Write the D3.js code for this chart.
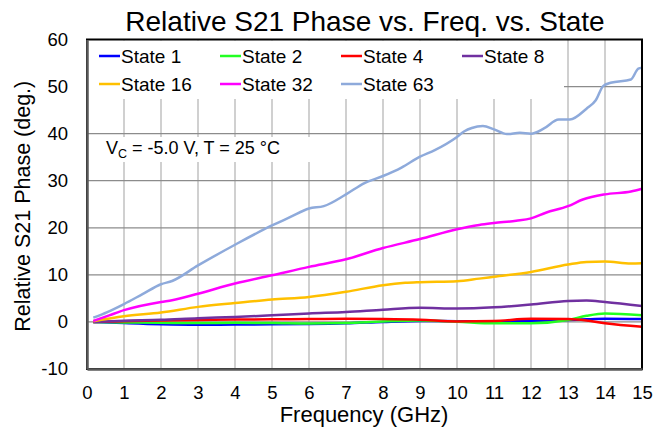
<!DOCTYPE html>
<html>
<head>
<meta charset="utf-8">
<script src="https://cdn.jsdelivr.net/npm/d3@7"></script>
<style>
  body { margin: 0; background: #fff; }
  svg { font-family: "Liberation Sans", Arial, sans-serif; }
  .grid-v line { stroke: #c0c0c0; stroke-width: 1.5; }
  .grid-h line { stroke: #8c8c8c; stroke-width: 1.3; }
  .series { fill: none; stroke-width: 2.5; stroke-linejoin: round; }
</style>
</head>
<body>
<svg id="canvas" width="654" height="431"></svg>
<script>
// chart data
const seriesNames = ["State 1", "State 2", "State 4", "State 8", "State 16", "State 32", "State 63"];
const seriesColors = ["#0000ff", "#22ff22", "#ff0000", "#7030a0", "#ffc000", "#ff00ff", "#8eaadb"];

const freqSmall = [0.17, 1, 2, 3, 4, 5, 6, 7, 8, 9, 10, 11, 12, 13, 13.5, 14, 15];
const state1 = [0, -0.25, -0.5, -0.6, -0.55, -0.5, -0.45, -0.3, 0, 0.2, 0.15, 0.1, 0.2, 0.4, 0.55, 0.65, 0.6];
const state2 = [0, -0.1, -0.2, -0.25, -0.2, -0.25, -0.35, -0.25, 0.1, 0.3, 0.05, -0.3, -0.3, 0.4, 1.3, 1.8, 1.4];
const state4 = [0, 0.15, 0.3, 0.4, 0.5, 0.55, 0.6, 0.65, 0.6, 0.45, 0.1, 0.2, 0.65, 0.6, 0.3, -0.3, -1.0];
const state8 = [0, 0.25, 0.45, 0.8, 1.05, 1.4, 1.8, 2.1, 2.6, 3.0, 2.85, 3.1, 3.7, 4.45, 4.55, 4.25, 3.4];

const freq16 = [0.17, 1, 2, 3, 4, 5, 6, 7, 8, 8.6, 9, 10, 10.6, 11, 12, 13, 13.5, 14, 14.7, 15];
const state16 = [0.15, 1.2, 2.0, 3.2, 4.0, 4.75, 5.3, 6.4, 7.8, 8.3, 8.45, 8.65, 9.2, 9.6, 10.6, 12.2, 12.75, 12.85, 12.4, 12.45];

const freq32 = [0.17, 0.6, 1, 2, 2.3, 3, 4, 5, 6, 7, 8, 9, 10, 10.6, 11, 11.6, 12, 12.4, 13, 13.4, 14, 14.7, 15];
const state32 = [0.2, 1.4, 2.5, 4.25, 4.6, 6.0, 8.15, 9.9, 11.7, 13.3, 15.7, 17.6, 19.7, 20.6, 21.0, 21.5, 22.0, 23.2, 24.6, 26.0, 27.1, 27.7, 28.3];

const freq63 = [0.17, 0.55, 1, 1.5, 2, 2.3, 3, 4, 5, 5.5, 6, 6.4, 7, 7.5, 8, 8.5, 9, 9.4, 10, 10.2, 10.4, 10.7, 11, 11.35, 11.7, 12, 12.35, 12.75, 13.05, 13.5, 13.75, 13.95, 14.15, 14.7, 14.9, 15];
const state63 = [0.9, 2.1, 3.8, 5.9, 8.0, 8.7, 12.0, 16.4, 20.5, 22.3, 24.1, 24.6, 27.1, 29.5, 31.0, 32.8, 35.1, 36.5, 39.3, 40.5, 41.2, 41.6, 40.9, 39.9, 40.2, 40.0, 41.1, 43.0, 43.0, 45.3, 47.1, 50.1, 50.8, 51.5, 53.8, 54.0];

const xTicks = d3.range(0, 16, 1);
const yTicks = [-10, 0, 10, 20, 30, 40, 50, 60];

const seriesData = [
    { name: seriesNames[0], color: seriesColors[0], f: freqSmall, v: state1 },
    { name: seriesNames[1], color: seriesColors[1], f: freqSmall, v: state2 },
    { name: seriesNames[2], color: seriesColors[2], f: freqSmall, v: state4 },
    { name: seriesNames[3], color: seriesColors[3], f: freqSmall, v: state8 },
    { name: seriesNames[4], color: seriesColors[4], f: freq16, v: state16 },
    { name: seriesNames[5], color: seriesColors[5], f: freq32, v: state32 },
    { name: seriesNames[6], color: seriesColors[6], f: freq63, v: state63 }
];

const plotLeft = 87, plotRight = 642, plotTop = 39.5, plotBottom = 369;

const svg = d3.select("#canvas");

const x = d3.scaleLinear().domain([0, 15]).range([plotLeft, plotRight]);
const y = d3.scaleLinear().domain([-10, 60]).range([plotBottom, plotTop]);

// gridlines
svg.append("g").attr("class", "grid-v")
    .selectAll("line")
    .data(xTicks.slice(1, -1))
    .enter().append("line")
    .attr("x1", d => x(d)).attr("x2", d => x(d))
    .attr("y1", plotTop).attr("y2", plotBottom);

svg.append("g").attr("class", "grid-h")
    .selectAll("line")
    .data(yTicks.slice(1, -1))
    .enter().append("line")
    .attr("x1", plotLeft).attr("x2", plotRight)
    .attr("y1", d => y(d)).attr("y2", d => y(d));

// white boxes for legend and note (they hide the grid)
svg.append("rect")
    .attr("x", plotLeft + 1).attr("y", plotTop + 1)
    .attr("width", 563 - plotLeft).attr("height", 98 - plotTop)
    .attr("fill", "#fff");

svg.append("rect")
    .attr("x", plotLeft + 1).attr("y", 137)
    .attr("width", 318 - plotLeft).attr("height", 25)
    .attr("fill", "#fff");

// series
const line = d3.line()
    .x(d => x(d[0]))
    .y(d => y(d[1]))
    .curve(d3.curveMonotoneX);

svg.append("g")
    .selectAll("path")
    .data(seriesData)
    .enter().append("path")
    .attr("class", "series")
    .attr("stroke", d => d.color)
    .attr("d", d => line(d.f.map((f, i) => [f, d.v[i]])));

// frame
svg.append("rect")
    .attr("x", plotLeft).attr("y", plotTop)
    .attr("width", plotRight - plotLeft).attr("height", plotBottom - plotTop)
    .attr("fill", "none").attr("stroke", "#000").attr("stroke-width", 2);

// axes
const xAxis = svg.append("g")
    .attr("transform", `translate(0,${plotBottom})`)
    .call(d3.axisBottom(x).tickValues(xTicks).tickSize(0).tickPadding(17).tickFormat(d => String(d)));

const yAxis = svg.append("g")
    .attr("transform", `translate(${plotLeft},0)`)
    .call(d3.axisLeft(y).tickValues(yTicks).tickSize(0).tickPadding(19).tickFormat(d => String(d)));

[xAxis, yAxis].forEach(ax => {
    ax.select(".domain").attr("stroke", "#595959").attr("stroke-width", 2.5);
    ax.selectAll("text")
        .attr("font-family", "Liberation Sans, Arial, sans-serif")
        .attr("font-size", 18.5)
        .attr("fill", "#000");
});

// title and axis labels
svg.append("text")
    .attr("x", 365).attr("y", 31)
    .attr("text-anchor", "middle")
    .attr("font-size", 28)
    .text("Relative S21 Phase vs. Freq. vs. State");

svg.append("text")
    .attr("x", 364).attr("y", 422)
    .attr("text-anchor", "middle")
    .attr("font-size", 22)
    .text("Frequency (GHz)");

svg.append("text")
    .attr("transform", `translate(30,${(plotTop + plotBottom) / 2 + 2}) rotate(-90)`)
    .attr("text-anchor", "middle")
    .attr("font-size", 21.5)
    .text("Relative S21 Phase (deg.)");

// legend
const legend = svg.append("g")
    .selectAll("g")
    .data(seriesData)
    .enter().append("g")
    .attr("transform", (d, i) => `translate(${99 + (i % 4) * 121},${56 + Math.floor(i / 4) * 28})`);

legend.append("line")
    .attr("x1", 0).attr("x2", 21)
    .attr("stroke", d => d.color)
    .attr("stroke-width", 2.5);

legend.append("text")
    .attr("x", 22).attr("y", 7)
    .attr("font-size", 19)
    .text(d => d.name);

// note
const note = svg.append("text")
    .attr("x", 106).attr("y", 154)
    .attr("font-size", 18);
note.append("tspan").text("V");
note.append("tspan").attr("font-size", 12.5).attr("dy", 4).text("C");
note.append("tspan").attr("dy", -4).text(" = -5.0 V, T = 25 °C");
</script>
</body>
</html>
